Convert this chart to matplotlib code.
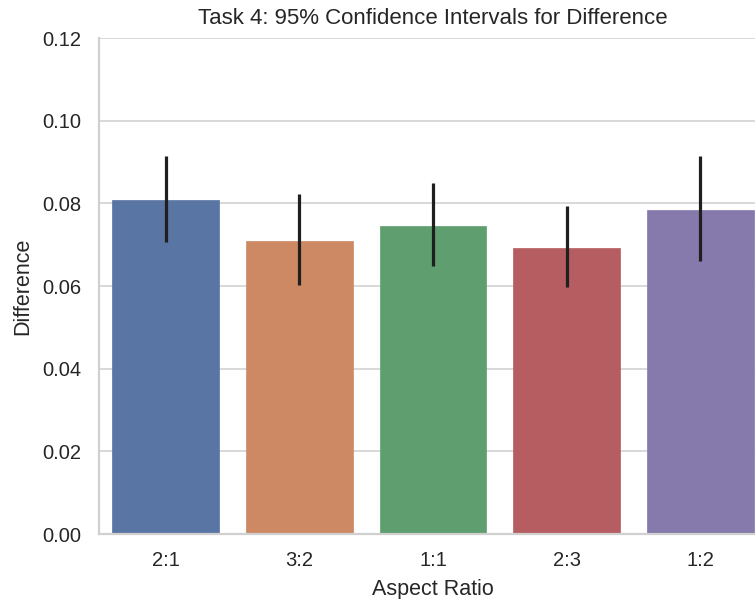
import matplotlib
matplotlib.use("Agg")
import matplotlib.pyplot as plt
import seaborn as sns

categories = ["2:1", "3:2", "1:1", "2:3", "1:2"]
means = [0.0807, 0.0709, 0.0744, 0.0692, 0.0784]
ci_low = [0.0707, 0.0602, 0.0648, 0.0598, 0.0661]
ci_high = [0.0914, 0.0823, 0.0849, 0.0793, 0.0914]
yticks = [0.00, 0.02, 0.04, 0.06, 0.08, 0.10, 0.12]

sns.set_theme(style="whitegrid")
plt.rcParams['font.family'] = ['Liberation Sans', 'DejaVu Sans']

fig = plt.figure(figsize=(7.55, 5.99), dpi=100)
ax = fig.add_axes([99 / 755, 65 / 599, 668 / 755, 496 / 599])

colors = [sns.desaturate(c, 0.75) for c in sns.color_palette("deep", len(categories))]
x = list(range(len(categories)))
ax.bar(x, means, width=0.8, color=colors, edgecolor=colors, linewidth=0.5, zorder=2)
ax.vlines(x, ci_low, ci_high, color="#1f1f1f", linewidth=2.3, zorder=3)

ax.set_xlim(-0.5, len(categories) - 0.5)
ax.set_ylim(0, 0.12)
ax.set_yticks(yticks)
ax.set_yticklabels([f"{t:.2f}" for t in yticks])
ax.set_xticks(x)
ax.set_xticklabels(categories)
ax.tick_params(axis="both", labelsize=14.5, colors="#262626", length=0, pad=12.5)
ax.grid(axis="x", visible=False)
ax.grid(axis="y", color="#d5d5d5", linewidth=1.3, zorder=0)
ax.set_axisbelow(True)

for s in ["top", "right"]:
    ax.spines[s].set_visible(False)
for s in ["left", "bottom"]:
    ax.spines[s].set_color("#d0d0d0")
    ax.spines[s].set_linewidth(1.6)

ax.set_title("Task 4: 95% Confidence Intervals for Difference", fontsize=16, color="#262626", pad=10)
ax.set_xlabel("Aspect Ratio", fontsize=15.5, color="#262626", labelpad=6)
ax.set_ylabel("Difference", fontsize=15.5, color="#262626", labelpad=6.5)

fig.savefig("out.png", dpi=100)
